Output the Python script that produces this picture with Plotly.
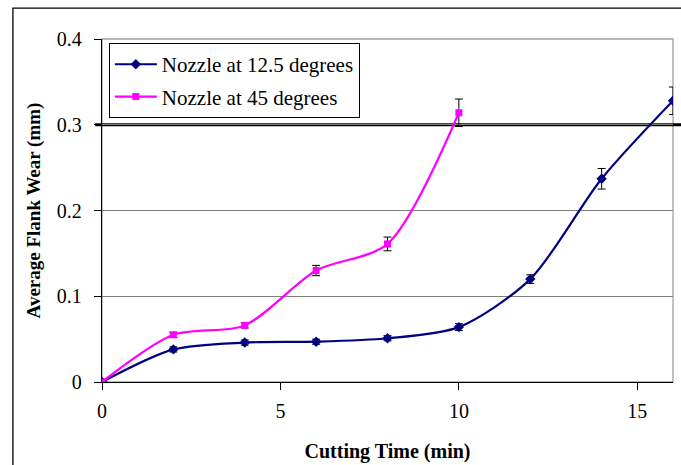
import plotly.graph_objects as go

time_blue = [0, 2, 4, 6, 8, 10, 12, 14, 16]
wear_blue = [0, 0.038, 0.046, 0.047, 0.051, 0.064, 0.120, 0.237, 0.328]
err_blue = [0.0, 0.003, 0.003, 0.003, 0.003, 0.004, 0.005, 0.012, 0.016]

time_mag = [0, 2, 4, 6, 8, 10]
wear_mag = [0, 0.055, 0.066, 0.130, 0.161, 0.314]
err_mag = [0.0, 0.003, 0.003, 0.006, 0.008, 0.016]

x_ticks = [0, 5, 10, 15]
y_ticks = [0, 0.1, 0.2, 0.3, 0.4]
y_tick_text = ["0", "0.1", "0.2", "0.3", "0.4"]

FONT = "Liberation Serif"

fig = go.Figure()

fig.add_trace(go.Scatter(
    x=time_blue, y=wear_blue, mode="lines+markers",
    name="Nozzle at 12.5 degrees", legendgroup="a",
    line=dict(color="#000080", width=2.2, shape="spline", smoothing=0.8),
    marker=dict(symbol="diamond", size=8, color="#000080"),
    error_y=dict(type="data", array=err_blue, color="black", thickness=1, width=4),
))
fig.add_trace(go.Scatter(
    x=time_mag, y=wear_mag, mode="lines+markers",
    name="Nozzle at 45 degrees", legendgroup="b",
    line=dict(color="#FF00FF", width=2.2, shape="spline", smoothing=0.8),
    marker=dict(symbol="square", size=7, color="#FF00FF"),
    error_y=dict(type="data", array=err_mag, color="black", thickness=1, width=4),
))

shapes = [
    # outer frame
    dict(type="rect", xref="paper", yref="paper", x0=-0.156, x1=1.1, y0=-0.4, y1=1.09,
         line=dict(color="black", width=1.3), layer="below"),
    # plot area border (gray)
    dict(type="rect", xref="paper", yref="paper", x0=0, x1=1, y0=0, y1=1,
         line=dict(color="#a0a0a0", width=1.3), layer="below"),
    # thick 0.3 threshold line
    dict(type="line", xref="paper", yref="y", x0=-0.012, x1=1.03, y0=0.3, y1=0.3,
         line=dict(color="black", width=3), layer="below"),
]

fig.update_layout(
    width=681, height=465,
    margin=dict(l=102, r=8, t=39, b=83),
    paper_bgcolor="white", plot_bgcolor="white",
    font=dict(family=FONT, size=20, color="black"),
    showlegend=True,
    legend=dict(
        x=0.012, y=0.988, xanchor="left", yanchor="top",
        bgcolor="white", bordercolor="black", borderwidth=1,
        font=dict(family=FONT, size=21),
        itemwidth=42, traceorder="grouped", tracegroupgap=2,
    ),
    shapes=shapes,
    xaxis=dict(
        range=[0, 16], tickvals=x_ticks, ticks="outside", ticklen=7,
        tickcolor="black", showline=True, linecolor="black", linewidth=1.3,
        showgrid=False, zeroline=False,
        ticklabelstandoff=4,
        tickfont=dict(family=FONT, size=20),
        title=dict(text="<b>Cutting Time (min)</b>", font=dict(family=FONT, size=20), standoff=22),
    ),
    yaxis=dict(
        range=[0, 0.4], tickvals=y_ticks, ticktext=y_tick_text, ticks="outside", ticklen=7,
        tickcolor="black", showline=True, linecolor="black", linewidth=1.3,
        showgrid=True, gridcolor="#808080", gridwidth=1, zeroline=False,
        ticklabelstandoff=8,
        tickfont=dict(family=FONT, size=20),
        title=dict(text="<b>Average Flank Wear (mm)</b>", font=dict(family=FONT, size=19), standoff=11),
    ),
)

fig.write_html("out.html")
